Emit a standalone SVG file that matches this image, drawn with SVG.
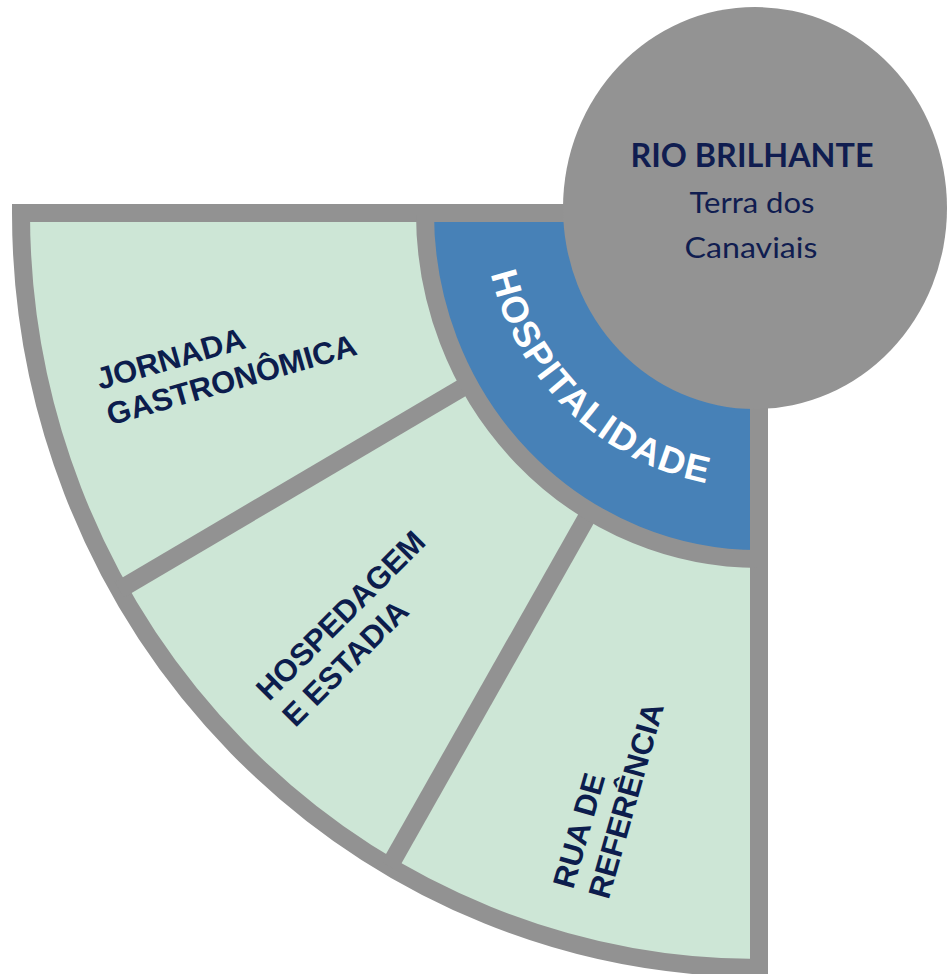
<svg xmlns="http://www.w3.org/2000/svg" width="948" height="974" viewBox="0 0 948 974">
  <defs>
    <style>
      .sector { fill: #cde6d6; stroke: #929292; stroke-width: 18; stroke-linejoin: miter; }
      .band { fill: #4781b7; stroke: #929292; stroke-width: 18; stroke-linejoin: miter; }
      .spoke { stroke: #929292; stroke-width: 18; stroke-linecap: butt; }
      .hub { fill: #939393; }
      .lbl { font-family: "Liberation Sans", Arial, sans-serif; font-weight: bold; font-size: 31px; fill: #0c1d4d; }
      .hubT { font-family: Lato, "Open Sans", sans-serif; fill: #101d50; text-anchor: middle; }
      .ring { font-family: "Liberation Sans", Arial, sans-serif; font-weight: bold; font-size: 37px; fill: #ffffff; }
    </style>
    <path id="ringPath" d="M 484.2,222.6 A 275 275 0 0 0 759,488" fill="none"/>
  </defs>

  <g id="fan">
    <path class="sector" d="M 759,213 L 21,213 A 738 755 0 0 0 759,968 Z"/>
  </g>

  <g id="connectors">
    <line class="spoke" x1="759" y1="213" x2="119.4" y2="589.7"/>
    <line class="spoke" x1="759" y1="213" x2="389.3" y2="866.5"/>
  </g>

  <g id="hospitalidade">
    <path class="band" d="M 759,213 L 425,213 A 334 346 0 0 0 759,559 Z"/>
  </g>

  <g id="rio-brilhante">
    <ellipse class="hub" cx="755" cy="208" rx="192" ry="201"/>
    <text class="hubT" x="752" y="167" font-size="33" font-weight="bold" textLength="243" lengthAdjust="spacingAndGlyphs">RIO BRILHANTE</text>
    <text class="hubT" x="752" y="213" font-size="29" textLength="125" lengthAdjust="spacingAndGlyphs">Terra dos</text>
    <text class="hubT" x="751" y="258" font-size="29" textLength="133" lengthAdjust="spacingAndGlyphs">Canaviais</text>
  </g>

  <g id="hospitalidade-label">
    <text class="ring" letter-spacing="1.5"><textPath href="#ringPath" startOffset="50%" text-anchor="middle">HOSPITALIDADE</textPath></text>
  </g>

  <g id="jornada-gastronomica">
    <text class="lbl" transform="translate(100,390) rotate(-16)"><tspan x="0" y="0">JORNADA</tspan><tspan x="0" y="37">GASTRONÔMICA</tspan></text>
  </g>

  <g id="hospedagem-estadia">
    <text class="lbl" transform="translate(269,702) rotate(-45)"><tspan x="0" y="0">HOSPEDAGEM</tspan><tspan x="0" y="37">E ESTADIA</tspan></text>
  </g>

  <g id="rua-de-referencia">
    <text class="lbl" transform="translate(573,890) rotate(-74)"><tspan x="0" y="0">RUA DE</tspan><tspan x="0" y="37">REFERÊNCIA</tspan></text>
  </g>
</svg>
